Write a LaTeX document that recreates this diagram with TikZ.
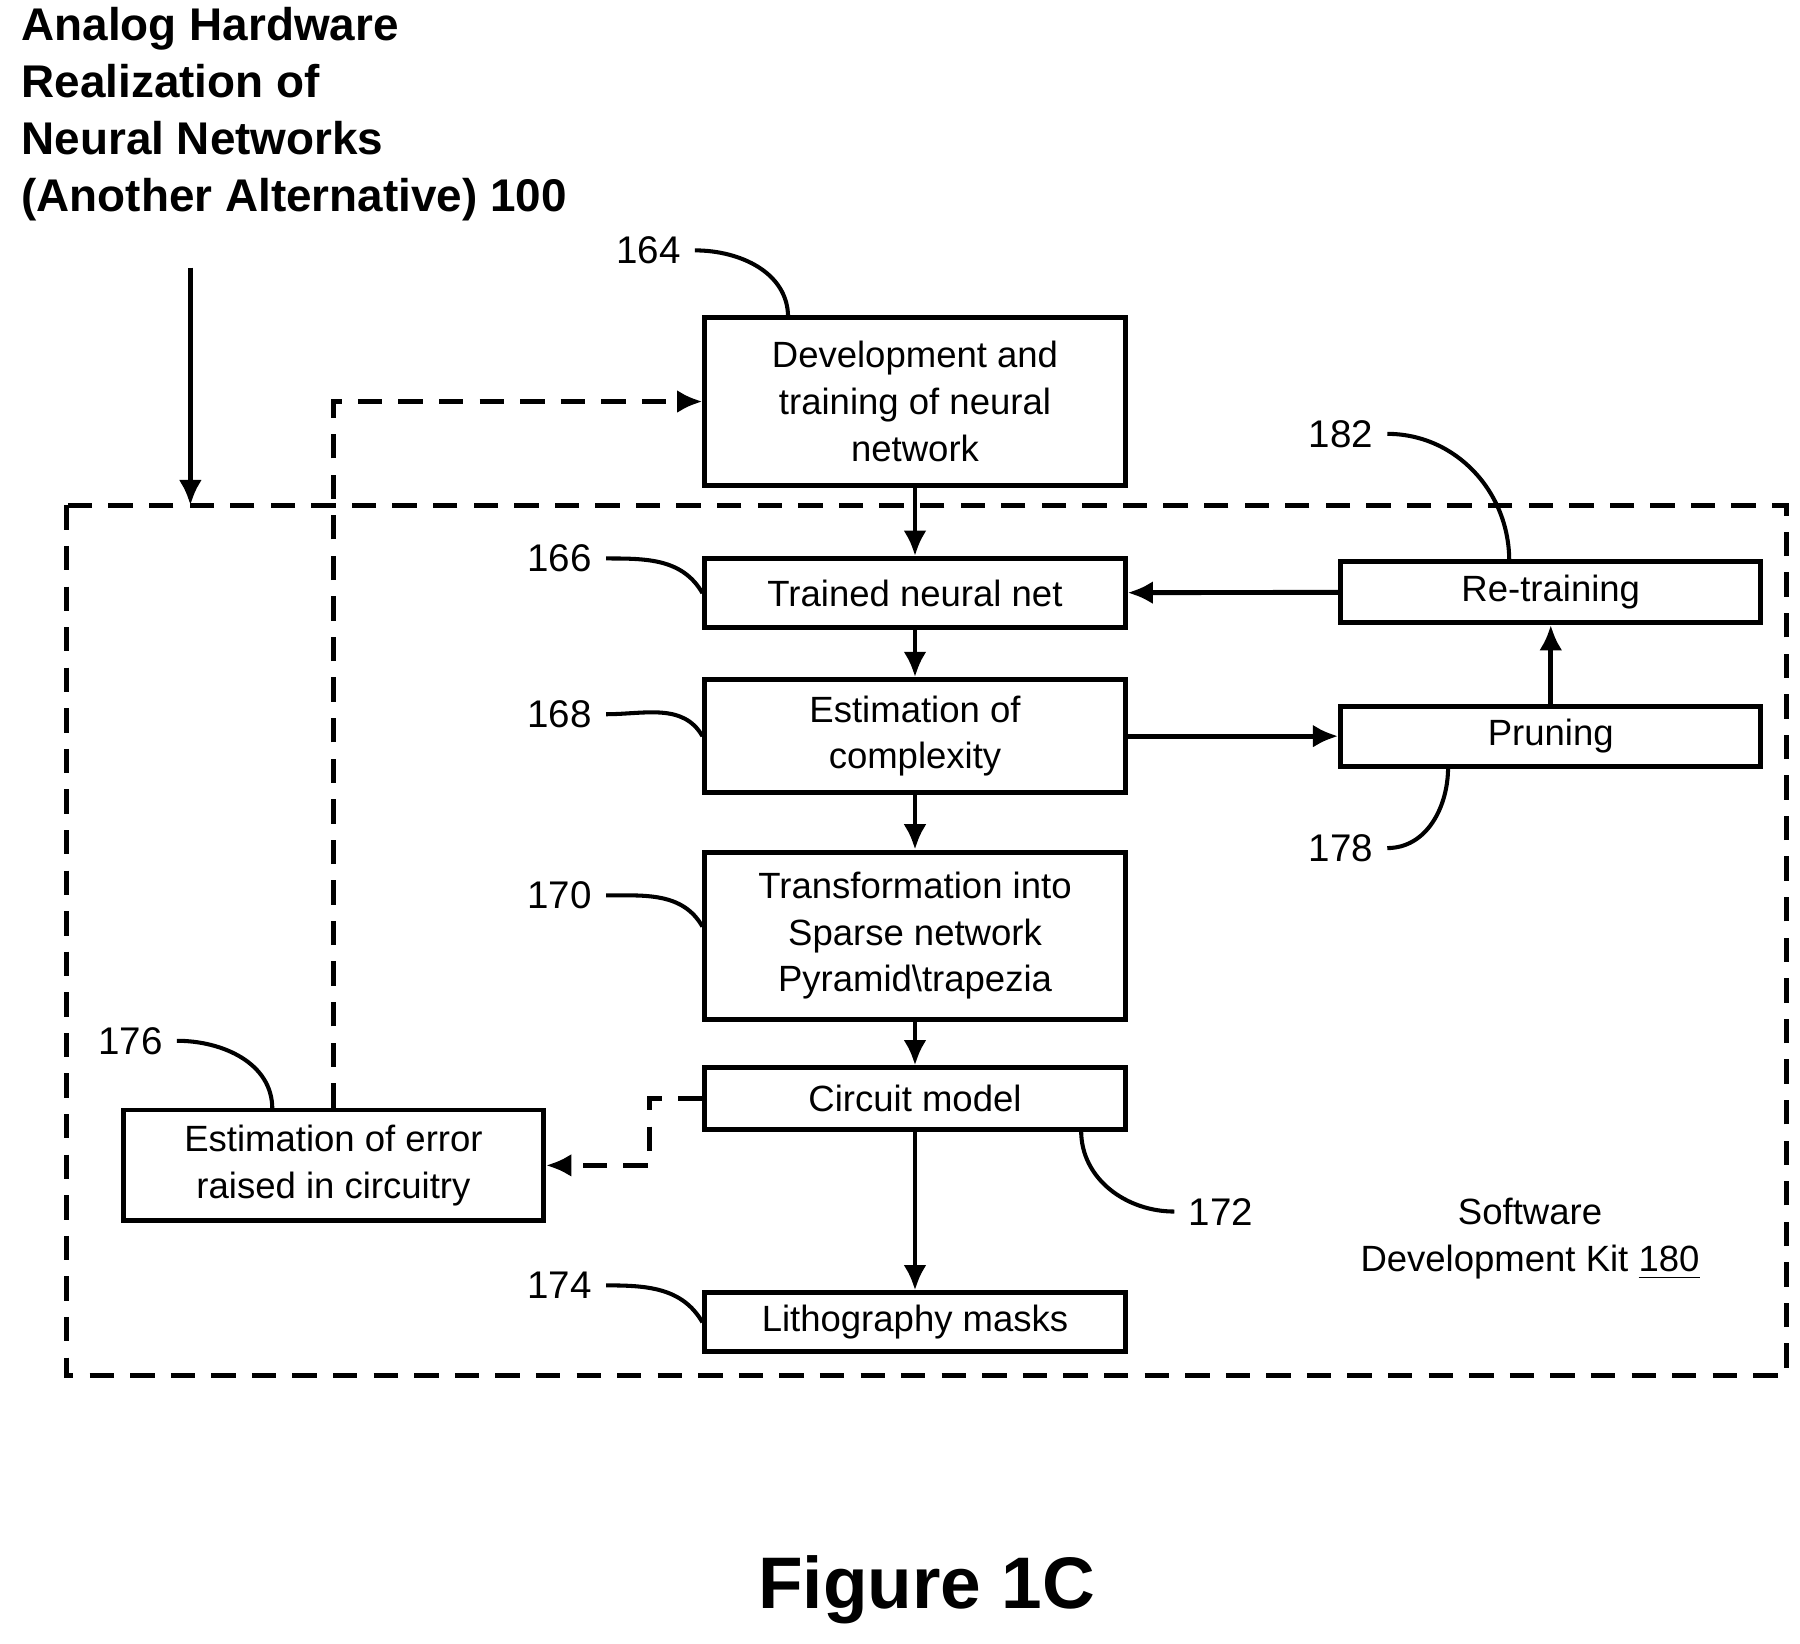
\documentclass[tikz,border=0pt]{standalone}
\usepackage{fontspec}
\setmainfont{Liberation Sans}
\usetikzlibrary{arrows.meta,positioning,calc}
\tikzset{
    % process box
    stage/.style={draw, line width=1.2pt, align=center, font=\fontsize{9}{11.5}\selectfont, inner sep=0pt},
    % reference numbers
    refnum/.style={font=\fontsize{9.5}{11}\selectfont},
    leader/.style={line width=1pt},
    flow/.style={-{Latex[length=2.2mm, width=2mm]}, line width=1.2pt},
    backflow/.style={flow, dashed, dash pattern=on 6pt off 4pt}
}
\begin{document}
\begin{tikzpicture}[x=0.01cm, y=-0.01cm]
    \useasboundingbox (0,0) rectangle (1560,1424);

    % Title
    \node[font=\bfseries\fontsize{11.3}{14}\selectfont, align=left, anchor=north west, inner sep=0pt] (title) at (18,6)
        {Analog Hardware\\Realization of\\Neural Networks\\(Another Alternative) 100};

    % SDK frame
    \draw[line width=1.2pt, dash pattern=on 6pt off 4pt] (58,438) rectangle (1548,1192);
    \coordinate (top) at (165,232);
    \coordinate (frame) at (165,438);
    \draw[flow] (top) -- (frame);

    % Steps
    \node[stage, minimum width=3.64cm, minimum height=1.45cm] (dev) at (793,348) {Development and\\training of neural\\network};
    \node[stage, minimum width=3.64cm, minimum height=0.6cm] (trained) at (793,514) {Trained neural net};
    \node[stage, minimum width=3.64cm, minimum height=0.98cm] (cplx) at (793,638) {Estimation of\\complexity};
    \node[stage, minimum width=3.64cm, minimum height=1.45cm] (sparse) at (793,811) {Transformation into\\Sparse network\\Pyramid\textbackslash trapezia};
    \node[stage, minimum width=3.64cm, minimum height=0.53cm] (circuit) at (793,952) {Circuit model};
    \node[stage, minimum width=3.64cm, minimum height=0.51cm] (litho) at (793,1146) {Lithography masks};
    \node[stage, minimum width=3.64cm, minimum height=0.53cm] (retrain) at (1344,513) {Re-training};
    \node[stage, minimum width=3.64cm, minimum height=0.52cm] (prune) at (1344,638) {Pruning};
    \node[stage, minimum width=3.64cm, minimum height=0.96cm] (error) at (289,1010) {Estimation of error\\raised in circuitry};

    % Connections
    \draw[flow] (dev) -- (trained);
    \draw[flow] (trained) -- (cplx);
    \draw[flow] (cplx) -- (sparse);
    \draw[flow] (sparse) -- (circuit);
    \draw[flow] (circuit) -- (litho);
    \draw[flow] (cplx) -- (prune);
    \draw[flow] (prune) -- (retrain);
    \draw[flow] (retrain) -- (trained);
    \draw[backflow] (circuit.west) -- ++(-46,0) |- (error.east);
    \draw[backflow] (error.north) |- (dev.west);

    % Reference numbers
    \node[refnum] (n164) at (562,217) {164};
    \draw[leader] (n164.east) to[out=0, in=90] (683,275);
    \node[refnum] (n166) at (485,484) {166};
    \draw[leader] (n166.east) to[out=0, in=120] (trained.west);
    \node[refnum] (n168) at (485,619) {168};
    \draw[leader] (n168.east) to[out=0, in=120] (cplx.west);
    \node[refnum] (n170) at (485,776) {170};
    \draw[leader] (n170.east) to[out=0, in=120] ($(sparse.west)+(0,-8)$);
    \node[refnum] (n176) at (113,902) {176};
    \draw[leader] (n176.east) to[out=0, in=90] (236,961);
    \node[refnum] (n172) at (1058,1050) {172};
    \draw[leader] (n172.west) to[out=180, in=-90] (937,980);
    \node[refnum] (n174) at (485,1114) {174};
    \draw[leader] (n174.east) to[out=0, in=120] (litho.west);
    \node[refnum] (n182) at (1162,376) {182};
    \draw[leader] (n182.east) to[out=0, in=90] (1308,486);
    \node[refnum] (n178) at (1162,735) {178};
    \draw[leader] (n178.east) to[out=0, in=-90] (1255,665);

    % Labels
    \node[align=center, font=\fontsize{9}{11.5}\selectfont] (sdk) at (1326,1074) {Software\\Development Kit \underline{180}};
    \node[font=\bfseries\fontsize{18}{20}\selectfont] (fig) at (803,1378) {Figure 1C};
\end{tikzpicture}
\end{document}
